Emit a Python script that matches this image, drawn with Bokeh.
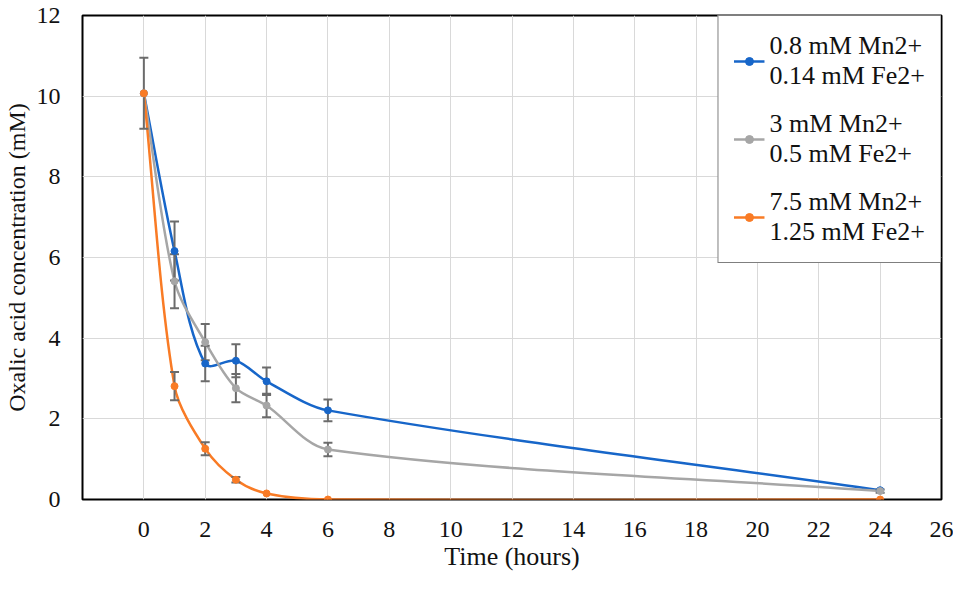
import math
from bokeh.plotting import figure
from bokeh.models import Range1d, FixedTicker, Legend, LegendItem
from bokeh.embed import file_html
from bokeh.resources import INLINE

# ---------------- data ----------------
time_h = [0, 1, 2, 3, 4, 6, 24]

low_label = "0.8 mM Mn2+\n0.14 mM Fe2+"
low_conc = [10.07, 6.16, 3.37, 3.44, 2.93, 2.21, 0.23]
low_err = [0.88, 0.73, 0.44, 0.41, 0.34, 0.27, 0.0]

mid_label = "3 mM Mn2+\n0.5 mM Fe2+"
mid_conc = [10.07, 5.41, 3.90, 2.76, 2.33, 1.24, 0.21]
mid_err = [0.0, 0.67, 0.45, 0.35, 0.29, 0.17, 0.04]

high_label = "7.5 mM Mn2+\n1.25 mM Fe2+"
high_conc = [10.07, 2.81, 1.26, 0.49, 0.15, 0.0, 0.0]
high_err = [0.0, 0.35, 0.16, 0.07, 0.0, 0.0, 0.0]

x_ticks = list(range(-2, 27, 2))
y_ticks = list(range(0, 13, 2))

# ---------------- style ----------------
FONT = "Liberation Serif"
BLUE = "#1766c9"
GRAY = "#a6a6a6"
ORANGE = "#f97b25"
ERR = "#6b6b6b"

W, H = 953, 573
X0, X1, Y0, Y1 = -2, 26, 0, 12
FRAME_W, FRAME_H = 860, 482

p = figure(width=W, height=H, output_backend="svg", toolbar_location=None,
           x_range=Range1d(X0, X1), y_range=Range1d(Y0, Y1),
           min_border_left=82, min_border_right=12, min_border_top=15,
           min_border_bottom=70)
p.background_fill_color = "white"
p.border_fill_color = "white"
p.outline_line_color = "black"
p.outline_line_width = 2

for ax in (p.xaxis, p.yaxis):
    ax.axis_line_color = None
    ax.major_tick_line_color = None
    ax.minor_tick_line_color = None
    ax.major_label_text_font = FONT
    ax.major_label_text_font_size = "24px"
    ax.major_label_text_color = "#111111"
    ax.axis_label_text_font = FONT
    ax.axis_label_text_font_style = "normal"
    ax.axis_label_text_color = "#111111"

p.xaxis.axis_label_text_font_size = "26px"
p.yaxis.axis_label_text_font_size = "24px"
p.xaxis.ticker = FixedTicker(ticks=x_ticks)
p.xaxis.major_label_overrides = {-2: ""}
p.yaxis.ticker = FixedTicker(ticks=y_ticks)
p.xaxis.axis_label = "Time (hours)"
p.yaxis.axis_label = "Oxalic acid concentration (mM)"
p.xaxis.major_label_standoff = 16
p.xaxis.axis_label_standoff = 2
p.yaxis.major_label_standoff = 16
p.yaxis.axis_label_standoff = 4

p.xgrid.grid_line_color = "#d9d9d9"
p.ygrid.grid_line_color = "#d9d9d9"
p.xgrid.grid_line_width = 1
p.ygrid.grid_line_width = 1


def smooth_segments(xs, ys):
    """Bezier control points (Excel-like smoothing) derived from the data."""
    sx = FRAME_W / (X1 - X0)
    sy = FRAME_H / (Y1 - Y0)
    X = [x * sx for x in xs]
    Y = [y * sy for y in ys]
    n = len(X)
    tan = []
    for i in range(n):
        if i == 0:
            dx, dy = X[1] - X[0], Y[1] - Y[0]
        elif i == n - 1:
            dx, dy = X[-1] - X[-2], Y[-1] - Y[-2]
        else:
            dx, dy = X[i + 1] - X[i - 1], Y[i + 1] - Y[i - 1]
        L = math.hypot(dx, dy) or 1.0
        tan.append((dx / L, dy / L))
    seg = dict(x0=[], y0=[], x1=[], y1=[], cx0=[], cy0=[], cx1=[], cy1=[])
    for i in range(n - 1):
        d = math.hypot(X[i + 1] - X[i], Y[i + 1] - Y[i])
        k = d * 0.3
        seg["x0"].append(xs[i]); seg["y0"].append(ys[i])
        seg["x1"].append(xs[i + 1]); seg["y1"].append(ys[i + 1])
        seg["cx0"].append((X[i] + tan[i][0] * k) / sx)
        seg["cy0"].append((Y[i] + tan[i][1] * k) / sy)
        seg["cx1"].append((X[i + 1] - tan[i + 1][0] * k) / sx)
        seg["cy1"].append((Y[i + 1] - tan[i + 1][1] * k) / sy)
    return seg


series = [
    (low_label, low_conc, low_err, BLUE),
    (mid_label, mid_conc, mid_err, GRAY),
    (high_label, high_conc, high_err, ORANGE),
]

items = []
curve_rs = []
for label, conc, err, color in series:
    seg = smooth_segments(time_h, conc)
    r_line = p.bezier(line_color=color, line_width=2.5, **seg)
    curve_rs.append((label, r_line, color, conc, err))

# error bars
for label, r_line, color, conc, err in curve_rs:
    ex = [t for t, e in zip(time_h, err) if e > 0]
    lo = [c - e for c, e in zip(conc, err) if e > 0]
    hi = [c + e for c, e in zip(conc, err) if e > 0]
    p.segment(x0=ex, y0=lo, x1=ex, y1=hi, line_color=ERR, line_width=2)
    p.scatter(x=ex + ex, y=lo + hi, marker="dash", size=9,
              line_color=ERR, line_width=2)

for label, r_line, color, conc, err in curve_rs:
    r_pts = p.scatter(x=time_h, y=conc, marker="circle", size=7,
                      fill_color=color, line_color=color)
    items.append(LegendItem(label=label, renderers=[r_line, r_pts]))

legend = Legend(items=items, location="top_right", margin=0, padding=15,
                spacing=18, glyph_width=31, glyph_height=20, label_standoff=5,
                label_text_font=FONT, label_text_font_size="26px",
                label_text_color="#111111", label_text_line_height=1.15,
                border_line_color="black", border_line_width=1,
                background_fill_color="white", background_fill_alpha=1.0)
p.add_layout(legend)

open("out.html", "w").write(file_html(p, INLINE))
